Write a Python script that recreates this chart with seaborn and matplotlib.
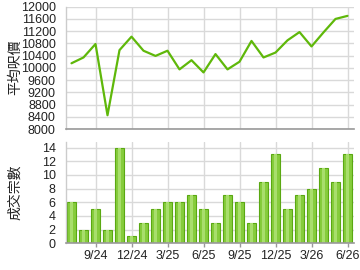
import numpy as np
import pandas as pd
import matplotlib
matplotlib.use("Agg")
import matplotlib.pyplot as plt
import seaborn as sns

months = ["7/24", "8/24", "9/24", "10/24", "11/24", "12/24", "1/25", "2/25", "3/25",
          "4/25", "5/25", "6/25", "7/25", "8/25", "9/25", "10/25", "11/25", "12/25",
          "1/26", "2/26", "3/26", "4/26", "5/26", "6/26"]
avg_price = [10150, 10340, 10780, 8450, 10580, 11020, 10560, 10390, 10560,
             9950, 10250, 9850, 10450, 9950, 10200, 10880, 10340, 10500,
             10900, 11170, 10700, 11160, 11600, 11700]
deals = [6, 2, 5, 2, 14, 1, 3, 5, 6, 6, 7, 5, 3, 7, 6, 3, 9, 13, 5, 7, 8, 11, 9, 13]
price_label = "平均呎價"
deals_label = "成交宗數"

sns.set_theme(style="white")
plt.rcParams['font.family'] = ['Liberation Sans', 'DejaVu Sans']

df = pd.DataFrame({"month": months, "price": avg_price, "deals": deals,
                   "pos": np.arange(len(months))})

fig = plt.figure(figsize=(3.6, 2.7), dpi=100)
W, H = 360, 270
def axrect(l, t, r, b):
    return [l / W, 1 - b / H, (r - l) / W, (b - t) / H]

ax1 = fig.add_axes(axrect(65.5, 6.7, 353.5, 129))
ax2 = fig.add_axes(axrect(65.5, 142.2, 353.5, 243.3))

line_c = "#5fb80a"
sns.lineplot(data=df, x="pos", y="price", ax=ax1, color=line_c, linewidth=1.6)
sns.barplot(data=df, x="pos", y="deals", ax=ax2, color="#86cc3c",
            edgecolor="#5aa812", linewidth=0.8, width=0.75, saturation=1)
# lighter highlight inside bars
sns.barplot(data=df, x="pos", y="deals", ax=ax2, color="#a8de6c",
            linewidth=0, width=0.3, saturation=1)

tick_pos = list(range(2, len(months), 3))
for ax in (ax1, ax2):
    ax.set_xlim(-0.5, len(months) - 0.5)
    ax.set_xticks(tick_pos)
    ax.grid(True, color="#d9d9d9", linewidth=1)
    ax.set_axisbelow(True)
    ax.set_xlabel("")
    ax.set_ylabel("")
    for s in ("top", "right"):
        ax.spines[s].set_visible(False)
    ax.spines["left"].set_color("#cccccc")
    ax.spines["left"].set_linewidth(1)
    ax.spines["bottom"].set_color("#999999")
    ax.spines["bottom"].set_linewidth(1.2)
    ax.tick_params(axis="y", length=0, pad=7, labelsize=9, colors="#222222")

ax1.set_ylim(8000, 12000)
ax1.set_yticks(np.arange(8000, 12001, 400))
ax1.tick_params(axis="x", length=0, labelbottom=False)

ax2.set_ylim(0, 14.8)
ax2.set_yticks(np.arange(0, 15, 2))
ax2.set_xticklabels([months[i] for i in tick_pos])
ax2.tick_params(axis="x", length=3, width=1, color="#999999", pad=2,
                labelsize=9, colors="#222222", bottom=True)
for t in ax2.get_xticklines():
    t.set_color("#999999")

cjk = ['Noto Sans CJK TC', 'DejaVu Sans']
fig.text(15 / W, 1 - 67 / H, price_label, rotation=90, ha="center", va="center",
         fontsize=10, family=cjk, color="#222222")
fig.text(15 / W, 1 - 192 / H, deals_label, rotation=90, ha="center", va="center",
         fontsize=10, family=cjk, color="#222222")

fig.savefig("out.png", dpi=100)
